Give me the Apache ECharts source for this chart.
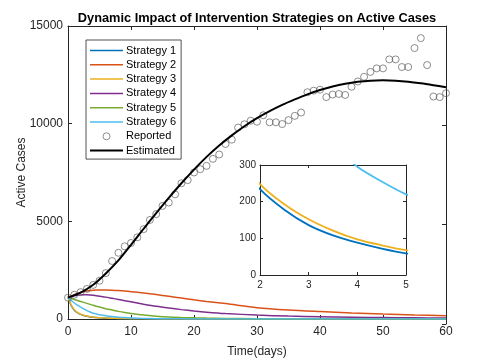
<!DOCTYPE html>
<html>
<head>
<meta charset="utf-8">
<title>Dynamic Impact of Intervention Strategies on Active Cases</title>
<script src="https://cdn.jsdelivr.net/npm/echarts@6.0.0/dist/echarts.min.js"></script>
<style>
  html, body { margin: 0; padding: 0; background: #fff; }
  #chart { width: 487px; height: 363px; }
</style>
</head>
<body>
<div id="chart"></div>
<script>
// time grid used for the strategy curves (days)
const strategyDays = [0, 0.5, 1, 1.5, 2, 2.5, 3, 3.5, 4, 4.5, 5, 6, 7, 8, 9, 10, 12, 14, 16, 18, 20, 22, 25, 30, 35, 40, 45, 50, 55, 60]
const strategy1 = [1100, 700, 450, 320, 234, 178, 136, 108, 88, 72, 59, 42, 31, 23, 17, 13, 8, 5, 3, 2, 1, 1, 0, 0, 0, 0, 0, 0, 0, 0]
const strategy2 = [1100, 1180, 1250, 1310, 1360, 1400, 1430, 1455, 1470, 1480, 1485, 1485, 1475, 1455, 1430, 1400, 1330, 1250, 1160, 1070, 980, 900, 790, 580, 460, 380, 310, 255, 210, 172]
const strategy3 = [1100, 720, 470, 335, 248, 193, 152, 121, 97, 81, 68, 50, 38, 29, 22, 17, 11, 7, 5, 3, 2, 1, 1, 0, 0, 0, 0, 0, 0, 0]
const strategy4 = [1100, 1150, 1190, 1220, 1235, 1240, 1238, 1230, 1215, 1195, 1170, 1120, 1060, 1000, 940, 880, 760, 650, 560, 480, 410, 350, 280, 200, 150, 115, 90, 72, 60, 50]
const strategy5 = [1100, 1050, 1000, 950, 900, 850, 800, 750, 700, 655, 610, 530, 460, 390, 330, 280, 200, 145, 105, 80, 60, 45, 30, 15, 8, 5, 3, 2, 1, 1]
const strategy6 = [1100, 950, 820, 710, 610, 515, 430, 355, 295, 255, 220, 165, 125, 95, 72, 55, 32, 19, 11, 7, 4, 2, 1, 0, 0, 0, 0, 0, 0, 0]

// reported cases, one per day 0..60
const reportedDays = Array.from({ length: 61 }, (_, i) => i)
const reported = [1090, 1240, 1375, 1540, 1745, 1960, 2350, 2970, 3390, 3720,
  3890, 4180, 4600, 5070, 5370, 5790, 5960, 6380, 6950, 7110,
  7500, 7670, 7840, 8200, 8420, 8960, 9180, 9800, 9970, 10150,
  10100, 10430, 10070, 10070, 9980, 10180, 10400, 10570, 11610, 11690,
  11740, 11360, 11490, 11520, 11470, 11890, 12160, 12400, 12650, 12830,
  12830, 13290, 13290, 12900, 12900, 13870, 14380, 13000, 11390, 11360, 11560]

// fitted model, every 2 days
const estimatedDays = Array.from({ length: 31 }, (_, i) => i * 2)
const estimated = [1100, 1350, 1750, 2330, 3000, 3800, 4620, 5420, 6200, 6950,
  7650, 8300, 8880, 9400, 9870, 10280, 10640, 10960, 11240, 11500,
  11720, 11900, 12040, 12140, 12200, 12220, 12200, 12150, 12070, 11970, 11860]

const strategyNames = ['Strategy 1', 'Strategy 2', 'Strategy 3', 'Strategy 4', 'Strategy 5', 'Strategy 6']
const strategyColors = ['#0072BD', '#D95319', '#EDB120', '#7E2F8E', '#77AC30', '#4DBEEE']
const strategies = [strategy1, strategy2, strategy3, strategy4, strategy5, strategy6]

const xTicks = { min: 0, max: 60, interval: 10 }
const yTicks = { min: 0, max: 15000, interval: 5000 }
const insetX = { min: 2, max: 5, interval: 1 }
const insetY = { min: 0, max: 300, interval: 100 }

const pairs = (xs, ys) => xs.map((x, i) => [x, ys[i]])

const axisColor = '#262626'
const font = 'Liberation Sans, Arial, Helvetica, sans-serif'
const plain = v => String(v)

function boxAxis(range, pos, gridIndex, opts) {
  return Object.assign({
    type: 'value',
    gridIndex: gridIndex,
    position: pos,
    min: range.min,
    max: range.max,
    interval: range.interval,
    axisLine: { show: true, onZero: false, lineStyle: { color: axisColor, width: 1 } },
    axisTick: { show: true, inside: true, length: 4, lineStyle: { color: axisColor } },
    splitLine: { show: false },
    axisLabel: { show: false }
  }, opts || {})
}

const chart = echarts.init(document.getElementById('chart'), null, { renderer: 'canvas' })

const series = []
strategies.forEach((s, i) => {
  series.push({
    name: strategyNames[i],
    type: 'line',
    xAxisIndex: 0,
    yAxisIndex: 0,
    data: pairs(strategyDays, s),
    symbol: 'none',
    smooth: 0.3,
    lineStyle: { color: strategyColors[i], width: 1.5 },
    itemStyle: { color: strategyColors[i] },
    z: 2
  })
})
series.push({
  name: 'Reported',
  type: 'scatter',
  xAxisIndex: 0,
  yAxisIndex: 0,
  data: pairs(reportedDays, reported),
  symbol: 'circle',
  symbolSize: 7,
  itemStyle: { color: 'rgba(255,255,255,0)', borderColor: '#4d4d4d', borderWidth: 0.8 },
  z: 3
})
series.push({
  name: 'Estimated',
  type: 'line',
  xAxisIndex: 0,
  yAxisIndex: 0,
  data: pairs(estimatedDays, estimated),
  symbol: 'none',
  smooth: 0.3,
  lineStyle: { color: '#000', width: 2 },
  itemStyle: { color: '#000' },
  z: 4
})
// inset zoom on days 2-5
strategies.forEach((s, i) => {
  series.push({
    name: strategyNames[i],
    type: 'line',
    xAxisIndex: 2,
    yAxisIndex: 2,
    data: pairs(strategyDays, s),
    symbol: 'none',
    smooth: 0.3,
    clip: true,
    lineStyle: { color: strategyColors[i], width: 1.8 },
    z: 6
  })
})

const lineIcon = 'path://M0,0H44V2H0Z'
const legendData = strategyNames.map(n => ({ name: n, icon: lineIcon }))
legendData.push({
  name: 'Reported',
  icon: 'circle',
  itemStyle: { color: 'rgba(255,255,255,0)', borderColor: '#4d4d4d', borderWidth: 0.8 }
})
legendData.push({ name: 'Estimated', icon: 'path://M0,0H33V2H0Z' })

chart.setOption({
  backgroundColor: '#fff',
  animation: false,
  textStyle: { fontFamily: font },
  title: {
    text: 'Dynamic Impact of Intervention Strategies on Active Cases',
    left: 252,
    textAlign: 'center',
    top: 7,
    textStyle: { fontSize: 12.8, fontWeight: 'bold', color: '#000', fontFamily: font }
  },
  legend: {
    orient: 'vertical',
    left: 86,
    top: 40,
    padding: [5, 5, 3, 4],
    itemWidth: 33,
    itemHeight: 7,
    itemGap: 3.3,
    symbolKeepAspect: true,
    backgroundColor: '#fff',
    borderColor: axisColor,
    borderWidth: 0.8,
    borderRadius: 0,
    textStyle: { fontSize: 11, color: '#000', fontFamily: font, padding: [0, 0, 0, -2] },
    data: legendData
  },
  grid: [
    { left: 68, right: 41, top: 26, bottom: 39 },
    { left: 68, right: 41, top: 26, bottom: 39 },
    { left: 260, top: 165, width: 146, height: 110, show: true, backgroundColor: '#fff', borderWidth: 0, z: 5 }
  ],
  xAxis: [
    boxAxis(xTicks, 'bottom', 0, {
      name: 'Time(days)',
      nameLocation: 'middle',
      nameGap: 27,
      nameTextStyle: { fontSize: 12, color: axisColor },
      axisLabel: { show: true, fontSize: 12, color: axisColor, margin: 7, formatter: plain }
    }),
    boxAxis(xTicks, 'top', 1),
    boxAxis(insetX, 'bottom', 2, {
      z: 6,
      axisTick: { show: true, inside: true, length: 3, lineStyle: { color: axisColor } },
      axisLabel: { show: true, fontSize: 10, color: axisColor, margin: 5, formatter: plain }
    }),
    boxAxis(insetX, 'top', 2, { z: 6, axisTick: { show: true, inside: true, length: 3, lineStyle: { color: axisColor } } })
  ],
  yAxis: [
    boxAxis(yTicks, 'left', 0, {
      name: 'Active Cases',
      nameLocation: 'middle',
      nameGap: 40,
      nameMoveOverlap: false,
      nameTextStyle: { fontSize: 12, color: axisColor },
      axisLabel: { show: true, fontSize: 12, color: axisColor, margin: 5, formatter: plain }
    }),
    boxAxis(yTicks, 'right', 1),
    boxAxis(insetY, 'left', 2, {
      z: 6,
      axisTick: { show: true, inside: true, length: 3, lineStyle: { color: axisColor } },
      axisLabel: { show: true, fontSize: 10, color: axisColor, margin: 4, formatter: plain }
    }),
    boxAxis(insetY, 'right', 2, { z: 6, axisTick: { show: true, inside: true, length: 3, lineStyle: { color: axisColor } } })
  ],
  series: series
})
</script>
</body>
</html>
